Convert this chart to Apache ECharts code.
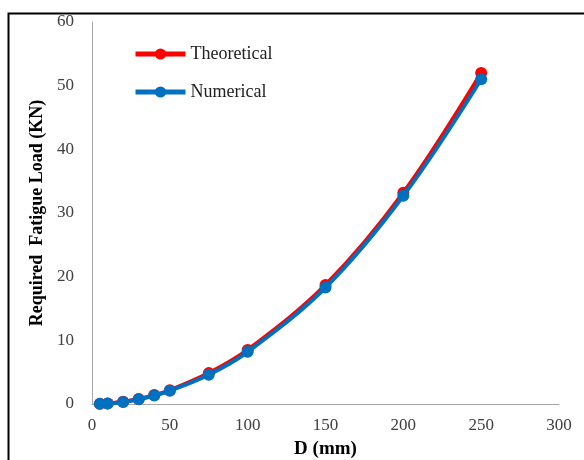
<!DOCTYPE html>
<html>
<head>
<meta charset="utf-8">
<script src="https://cdn.jsdelivr.net/npm/echarts@6/dist/echarts.min.js"></script>
<style>html,body{margin:0;padding:0;background:#fff;overflow:hidden}#c{width:584px;height:460px}</style>
</head>
<body>
<div id="c"></div>
<script>
var diameters = [5, 10, 20, 30, 40, 50, 75, 100, 150, 200, 250];
var theoretical = [0.02, 0.09, 0.35, 0.78, 1.4, 2.15, 4.85, 8.5, 18.7, 33.2, 52.0];
var numerical = [0.02, 0.08, 0.33, 0.75, 1.33, 2.08, 4.6, 8.2, 18.3, 32.7, 51.0];
var seriesNames = ['Theoretical', 'Numerical'];
var xTitle = 'D (mm)';
var yTitle = 'Required  Fatigue Load (KN)';

function pairs(xs, ys) { return xs.map(function (x, i) { return [x, ys[i]]; }); }

var serif = '"Liberation Serif", "Times New Roman", serif';
var chart = echarts.init(document.getElementById('c'), null, { renderer: 'canvas', width: 584, height: 460 });
chart.setOption({
  animation: false,
  backgroundColor: '#fff',
  graphic: [{
    type: 'rect', left: 6, top: 11, z: 100, silent: true,
    shape: { x: 0, y: 0, width: 620, height: 500 },
    style: { fill: 'none', stroke: '#000', lineWidth: 2 }
  }],
  grid: { left: 92, right: 25, top: 22, bottom: 56, containLabel: false, outerBoundsMode: 'none' },
  legend: {
    orient: 'vertical', left: 128, top: 40, itemWidth: 50, itemHeight: 14, itemGap: 20,
    textStyle: { fontFamily: serif, fontSize: 18, color: '#222', lineHeight: 18 },
    lineStyle: { width: 5 },
    data: seriesNames
  },
  xAxis: {
    type: 'value', min: 0, max: 300, interval: 50,
    name: xTitle, nameLocation: 'middle', nameGap: 36,
    nameTextStyle: { fontFamily: serif, fontSize: 19, fontWeight: 'bold', color: '#000' },
    axisLine: { show: true, lineStyle: { color: '#a6a6a6', width: 1 } },
    axisTick: { show: false },
    splitLine: { show: false },
    axisLabel: { fontFamily: serif, fontSize: 17, color: '#404040', margin: 13 }
  },
  yAxis: {
    type: 'value', min: 0, max: 60, interval: 10,
    name: yTitle, nameLocation: 'middle', nameGap: 46, nameRotate: 90,
    nameTextStyle: { fontFamily: serif, fontSize: 18, fontWeight: 'bold', color: '#000' },
    axisLine: { show: true, lineStyle: { color: '#a6a6a6', width: 1 } },
    axisTick: { show: false },
    splitLine: { show: false },
    axisLabel: { fontFamily: serif, fontSize: 17, color: '#404040', margin: 18 }
  },
  series: [{
    name: seriesNames[0], type: 'line', smooth: 0.35,
    data: pairs(diameters, theoretical),
    symbol: 'circle', symbolSize: 12,
    itemStyle: { color: '#ff0000' },
    lineStyle: { color: '#ff0000', width: 4 }, z: 2
  }, {
    name: seriesNames[1], type: 'line', smooth: 0.35,
    data: pairs(diameters, numerical),
    symbol: 'circle', symbolSize: 12,
    itemStyle: { color: '#0070c0' },
    lineStyle: { color: '#0070c0', width: 4 }, z: 3
  }]
});
</script>
</body>
</html>
